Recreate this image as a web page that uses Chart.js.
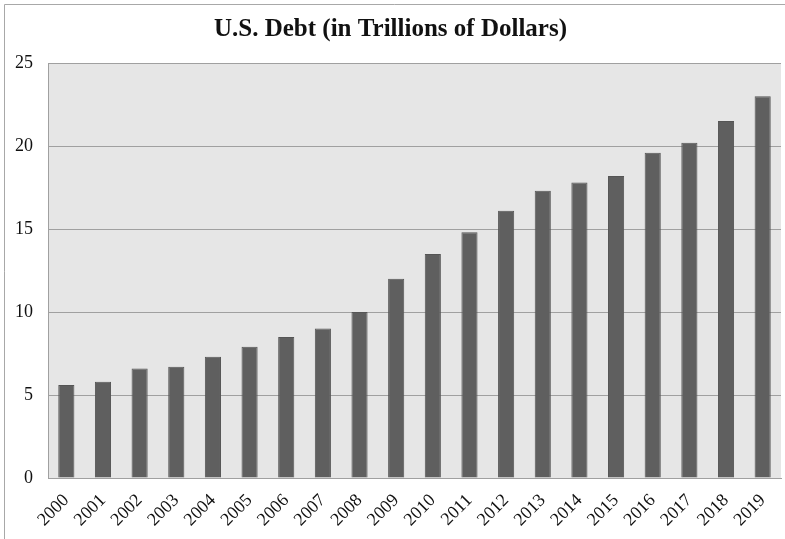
<!DOCTYPE html>
<html lang="en">
<head>
    <meta charset="UTF-8">
    <title>U.S. Debt</title>
    <script src="https://cdn.jsdelivr.net/npm/chart.js"></script>
    <style>
        body {
            margin: 0;
            background-color: #fff;
        }

        .chart-box {
            position: relative;
            width: 785px;
            height: 539px;
        }
    </style>
</head>
<body>
    <div class="chart-box">
        <canvas id="debtChart"></canvas>
    </div>
    <script>
        // Debt by year, trillions of dollars
        const years = ['2000', '2001', '2002', '2003', '2004', '2005', '2006', '2007', '2008', '2009',
                       '2010', '2011', '2012', '2013', '2014', '2015', '2016', '2017', '2018', '2019'];
        const debt = [5.6, 5.8, 6.6, 6.7, 7.3, 7.9, 8.5, 9.0, 10.0, 12.0,
                      13.5, 14.8, 16.1, 17.3, 17.8, 18.2, 19.6, 20.2, 21.5, 23.0];
        const yTicks = [0, 5, 10, 15, 20, 25];

        const serif = "'Liberation Serif', 'DejaVu Serif', serif";

        // grey plot background plus the thin frame round the whole figure
        const backdrop = {
            id: 'backdrop',
            beforeDraw(chart) {
                const { ctx, chartArea: a, width, height } = chart;
                ctx.save();
                ctx.fillStyle = '#e6e6e6';
                ctx.fillRect(a.left, a.top, a.right - a.left, a.bottom - a.top);
                ctx.strokeStyle = '#a8a8a8';
                ctx.lineWidth = 1;
                ctx.beginPath();
                ctx.moveTo(4.5, height);
                ctx.lineTo(4.5, 4.5);
                ctx.lineTo(width, 4.5);
                ctx.stroke();
                ctx.restore();
            }
        };

        const ctx = document.getElementById('debtChart').getContext('2d');
        const debtChart = new Chart(ctx, {
            type: 'bar',
            data: {
                labels: years,
                datasets: [{
                    label: 'U.S. Debt',
                    data: debt,
                    backgroundColor: '#5f5f5f',
                    borderColor: '#555555',
                    borderWidth: 1,
                    categoryPercentage: 1,
                    barPercentage: 0.44
                }]
            },
            options: {
                responsive: true,
                maintainAspectRatio: false,
                animation: false,
                layout: { padding: { right: 4 } },
                plugins: {
                    legend: { display: false },
                    tooltip: { enabled: false },
                    title: {
                        display: true,
                        text: 'U.S. Debt (in Trillions of Dollars)',
                        color: '#111',
                        font: { family: serif, size: 25, weight: 'bold' },
                        padding: { top: 15, bottom: 18 }
                    }
                },
                scales: {
                    x: {
                        grid: { display: false, drawTicks: false },
                        border: { display: true, color: '#a0a0a0', width: 1 },
                        ticks: {
                            color: '#111',
                            font: { family: serif, size: 18 },
                            minRotation: 45,
                            maxRotation: 45,
                            padding: 12
                        },
                        afterFit(scale) {
                            scale.height = 61;
                            // keep rotated labels from squeezing the plot sideways
                            scale.paddingLeft = 0;
                            scale.paddingRight = 0;
                        }
                    },
                    y: {
                        min: 0,
                        max: 25,
                        afterBuildTicks(scale) {
                            scale.ticks = yTicks.map(v => ({ value: v }));
                        },
                        grid: { color: '#a0a0a0', lineWidth: 1, drawTicks: false },
                        border: { display: true, color: '#a0a0a0', width: 1 },
                        ticks: {
                            color: '#111',
                            font: { family: serif, size: 18 },
                            padding: 15
                        },
                        afterFit(scale) { scale.width = 48; }
                    }
                }
            },
            plugins: [backdrop]
        });
    </script>
</body>
</html>
